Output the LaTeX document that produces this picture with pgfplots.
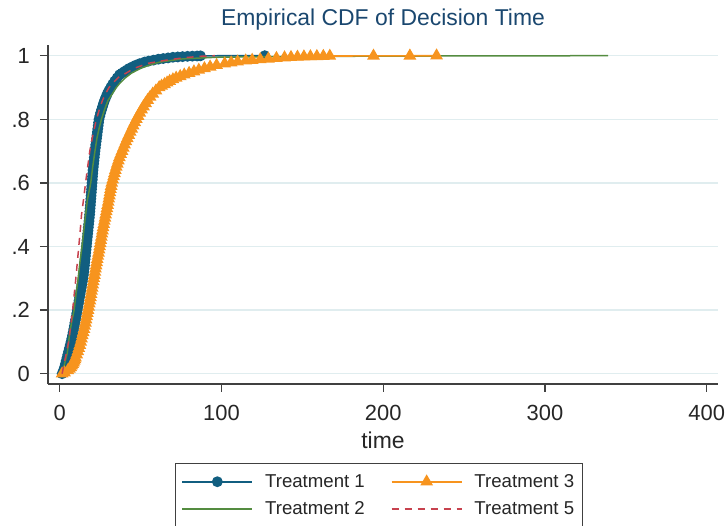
\documentclass[border=0pt]{standalone}
\usepackage{pgfplots}
\pgfplotsset{compat=1.18}
\usepackage{fontspec}
\setmainfont{Liberation Sans}
\definecolor{tone}{RGB}{17,94,128}
\definecolor{ttwo}{RGB}{84,140,64}
\definecolor{tthree}{RGB}{247,148,30}
\definecolor{tfive}{RGB}{199,66,78}
\definecolor{titleblue}{RGB}{26,71,111}
\definecolor{gridc}{RGB}{224,237,239}
\definecolor{axisc}{RGB}{64,64,64}
\begin{document}
\begin{tikzpicture}
\begin{axis}[
  at={(48bp,142bp)}, anchor=south west,
  scale only axis, width=670bp, height=339bp,
  xmin=-7.23, xmax=407.0, ymin=-0.0324, ymax=1.0336,
  clip mode=individual,
  axis x line*=bottom, axis y line*=left,
  axis line style={draw=axisc, line width=1.5bp},
  xtick={0,100,200,300,400}, xticklabels={0,100,200,300,400},
  ytick={0,0.2,0.4,0.6,0.8,1}, yticklabels={0,.2,.4,.6,.8,1},
  tick align=outside, major tick length=8bp,
  tick style={draw=axisc, line width=1.3bp},
  ymajorgrids, grid style={draw=gridc, line width=1.5bp},
  ticklabel style={font=\fontsize{22}{24}\selectfont, text=black!85, inner sep=0pt},
  xticklabel style={anchor=base, yshift=-28bp},
  yticklabel style={anchor=base east, xshift=-10bp, yshift=-7.9bp},
  legend columns=2, transpose legend,
  legend image code/.code={\draw[mark repeat=2,mark phase=2,#1] plot coordinates {(0bp,0bp) (35bp,0bp) (70bp,0bp)};},
  legend style={at={(axis description cs:0.1896,-0.233)}, anchor=north west,
    draw=axisc, line width=1bp, fill=white,
    font=\fontsize{18.7}{22}\selectfont, text=black!85,
    inner xsep=6bp, inner ysep=9bp, row sep=9bp,
    /tikz/every odd column/.append style={column sep=10bp},
    /tikz/every even column/.append style={column sep=24bp}},
  legend cell align=left,
]
\addplot[color=tone, draw=tone, line width=1.6bp, mark=*, mark size=4.6bp, mark options={solid, fill=tone, draw=tone}] coordinates {
(1.5,0) (2.3,0.01) (3.0,0.02) (3.5,0.03) (4.0,0.04) (4.5,0.05) (5.0,0.06) (5.5,0.07) (6.0,0.08) (6.5,0.09) (7.0,0.10) (7.45,0.11) (7.9,0.12) (8.3,0.13) (8.7,0.14) (9.05,0.15) (9.4,0.16) (9.8,0.17) (10.2,0.18) (10.55,0.19) (10.9,0.20) (11.25,0.21) (11.6,0.22) (11.95,0.23) (12.3,0.24) (12.65,0.25) (13.0,0.26) (13.35,0.27) (13.7,0.28) (14.05,0.29) (14.4,0.30) (14.65,0.31) (14.9,0.32) (15.1,0.33) (15.3,0.34) (15.5,0.35) (15.7,0.36) (15.9,0.37) (16.1,0.38) (16.3,0.39) (16.5,0.40) (16.7,0.41) (16.9,0.42) (17.1,0.43) (17.3,0.44) (17.5,0.45) (17.7,0.46) (17.9,0.47) (18.1,0.48) (18.3,0.49) (18.5,0.50) (18.65,0.51) (18.8,0.52) (18.95,0.53) (19.1,0.54) (19.25,0.55) (19.4,0.56) (19.55,0.57) (19.7,0.58) (19.85,0.59) (20.0,0.60) (20.15,0.61) (20.3,0.62) (20.45,0.63) (20.6,0.64) (20.8,0.65) (21.0,0.66) (21.2,0.67) (21.4,0.68) (21.6,0.69) (21.8,0.70) (22.05,0.71) (22.3,0.72) (22.55,0.73) (22.8,0.74) (23.05,0.75) (23.3,0.76) (23.55,0.77) (23.8,0.78) (24.05,0.79) (24.3,0.80) (24.8,0.81) (25.3,0.82) (25.9,0.83) (26.5,0.84) (27.1,0.85) (27.8,0.86) (28.6,0.87) (29.4,0.88) (30.4,0.89) (31.5,0.90) (32.7,0.91) (34.0,0.92) (35.5,0.93) (37.0,0.94) (38.5,0.945) (40,0.95) (41.5,0.955) (43,0.96) (45,0.965) (47,0.97) (49.5,0.975) (52.5,0.98) (55,0.983) (58,0.986) (61,0.989) (64,0.991) (67,0.993) (70,0.995) (73,0.996) (76,0.997) (79,0.998) (82,0.9985) (85,0.999) (87,0.9995) (126.8,1)
};
\addlegendentry{Treatment 1}
\addplot[color=ttwo, draw=ttwo, line width=1.5bp, mark=none] coordinates {
(1.5,0) (3.0,0.03) (4.7,0.065) (6.2,0.128) (7.5,0.165) (8.9,0.2) (10.1,0.25) (11.3,0.295) (12.5,0.35) (13.8,0.4) (14.9,0.45) (15.9,0.494) (17.1,0.546) (19.2,0.6) (20.4,0.65) (21.6,0.693) (23.0,0.74) (24.3,0.77) (25.8,0.8) (27.7,0.83) (29.9,0.86) (32.5,0.88) (35,0.9) (37.1,0.913) (40.5,0.93) (44.3,0.945) (50,0.96) (55.7,0.971) (62,0.98) (76,0.99) (97,0.995) (130,0.997) (170,0.998) (230,0.999) (339,1)
};
\addlegendentry{Treatment 2}
\addplot[color=tthree, draw=tthree, line width=1.6bp, mark=triangle*, mark size=5.8bp, mark options={solid, fill=tthree, draw=tthree}] coordinates {
(1.5,0) (3,0.003) (5,0.01) (6,0.015) (6.8,0.02) (7.4,0.025) (8,0.03) (8.5,0.035) (9,0.04) (9.4,0.045) (9.8,0.05) (10.5,0.06) (11.2,0.07) (11.8,0.08) (12.4,0.09) (13.0,0.10) (13.5,0.11) (14.0,0.12) (14.5,0.13) (15.0,0.14) (15.45,0.15) (15.9,0.16) (16.3,0.17) (16.7,0.18) (17.1,0.19) (17.5,0.20) (17.9,0.21) (18.3,0.22) (18.65,0.23) (19.0,0.24) (19.35,0.25) (19.7,0.26) (20.05,0.27) (20.4,0.28) (20.75,0.29) (21.1,0.30) (21.45,0.31) (21.8,0.32) (22.15,0.33) (22.5,0.34) (22.85,0.35) (23.2,0.36) (23.6,0.37) (24.0,0.38) (24.35,0.39) (24.7,0.40) (25.05,0.41) (25.4,0.42) (25.75,0.43) (26.1,0.44) (26.45,0.45) (26.8,0.46) (27.2,0.47) (27.6,0.48) (28.0,0.49) (28.4,0.50) (28.8,0.51) (29.2,0.52) (29.6,0.53) (30.0,0.54) (30.35,0.55) (30.7,0.56) (31.05,0.57) (31.4,0.58) (31.8,0.59) (32.2,0.60) (32.75,0.61) (33.3,0.62) (33.85,0.63) (34.4,0.64) (35.0,0.65) (35.6,0.66) (36.25,0.67) (36.9,0.68) (37.7,0.69) (38.5,0.70) (39.3,0.71) (40.1,0.72) (40.95,0.73) (41.8,0.74) (42.7,0.75) (43.6,0.76) (44.5,0.77) (45.4,0.78) (46.4,0.79) (47.4,0.80) (48.45,0.81) (49.5,0.82) (50.65,0.83) (51.8,0.84) (53.1,0.85) (54.4,0.86) (55.9,0.87) (57.5,0.88) (59.5,0.89) (61.5,0.90) (63,0.905) (64.8,0.91) (66.4,0.915) (68,0.92) (70,0.925) (72,0.93) (74.5,0.935) (77,0.94) (80,0.945) (83,0.95) (86,0.955) (89.5,0.96) (93,0.965) (97,0.97) (102,0.975) (106,0.978) (110,0.981) (115,0.984) (119,0.986) (124,0.988) (129,0.990) (134,0.992) (139,0.994) (143,0.995) (147,0.996) (151,0.997) (155,0.9975) (159,0.998) (163,0.9985) (167,0.999) (194,0.9993) (216.5,0.9996) (233,1)
};
\addlegendentry{Treatment 3}
\addplot[color=tfive, draw=tfive, line width=1.5bp, mark=none, dash pattern=on 7bp off 6bp] coordinates {
(1.5,0) (3.5,0.05) (5.5,0.1) (6.8,0.15) (8.0,0.2) (9.0,0.25) (10.0,0.3) (10.9,0.35) (11.8,0.4) (12.7,0.45) (13.5,0.5) (14.8,0.55) (16.0,0.6) (17.3,0.65) (18.6,0.7) (20.5,0.75) (22.7,0.8) (24.5,0.83) (26.5,0.86) (28.3,0.88) (30.5,0.9) (34,0.92) (37,0.935) (41,0.945) (46,0.96) (54.6,0.976) (66,0.986) (76,0.993) (86.6,0.998) (96,1)
};
\addlegendentry{Treatment 5}
\end{axis}
\node[anchor=base, font=\fontsize{23}{26}\selectfont, text=titleblue] at (383bp,500.3bp) {Empirical CDF of Decision Time};
\node[anchor=base, font=\fontsize{23}{26}\selectfont, text=black!85] at (383bp,77bp) {time};
\pgfresetboundingbox
\useasboundingbox (0bp,0bp) rectangle (726bp,526bp);
\end{tikzpicture}
\end{document}
